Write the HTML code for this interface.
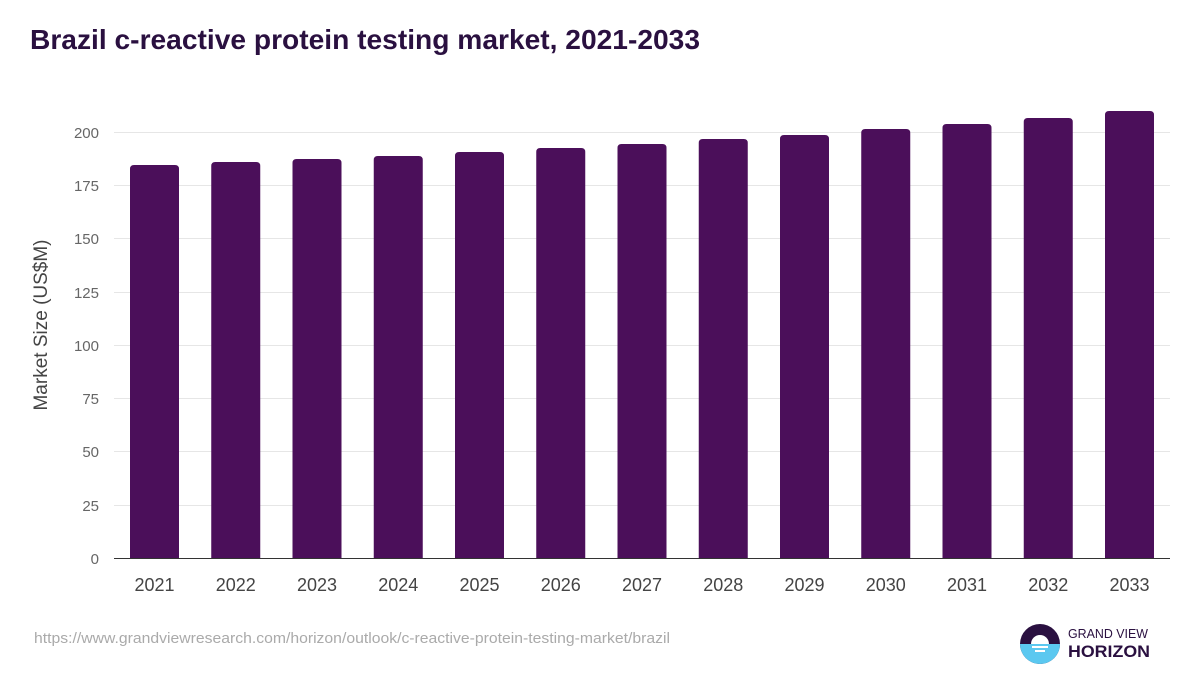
<!DOCTYPE html>
<html><head><meta charset="utf-8"><style>
body{margin:0;background:#fff;}
svg{display:block;font-family:"Liberation Sans",sans-serif;}
</style></head><body>
<svg width="1200" height="675" viewBox="0 0 1200 675">
<rect width="1200" height="675" fill="#fff"/>
<text x="30" y="49" font-size="28" font-weight="bold" fill="#2a1040" textLength="670" lengthAdjust="spacingAndGlyphs">Brazil c-reactive protein testing market, 2021-2033</text>
<g stroke="#e6e6e6" stroke-width="1">
<line x1="114" x2="1170" y1="132.5" y2="132.5"/>
<line x1="114" x2="1170" y1="185.5" y2="185.5"/>
<line x1="114" x2="1170" y1="238.5" y2="238.5"/>
<line x1="114" x2="1170" y1="292.5" y2="292.5"/>
<line x1="114" x2="1170" y1="345.5" y2="345.5"/>
<line x1="114" x2="1170" y1="398.5" y2="398.5"/>
<line x1="114" x2="1170" y1="451.5" y2="451.5"/>
<line x1="114" x2="1170" y1="505.5" y2="505.5"/>
</g>
<g font-size="15" fill="#666" text-anchor="end">
<text x="99" y="138">200</text><text x="99" y="191">175</text><text x="99" y="244">150</text><text x="99" y="298">125</text><text x="99" y="351">100</text><text x="99" y="404">75</text><text x="99" y="457">50</text><text x="99" y="511">25</text><text x="99" y="564">0</text>
</g>
<text transform="translate(47,325) rotate(-90)" font-size="19" fill="#444" text-anchor="middle">Market Size (US$M)</text>
<g fill="#4b0f5a" id="bars"></g>
<line x1="114" x2="1170" y1="558.5" y2="558.5" stroke="#333" stroke-width="1"/>
<g font-size="18" fill="#444" text-anchor="middle" id="labels"></g>
<text x="34" y="643" font-size="15" fill="#aaa" textLength="636" lengthAdjust="spacingAndGlyphs">https://www.grandviewresearch.com/horizon/outlook/c-reactive-protein-testing-market/brazil</text>
<g>
<circle cx="1040" cy="644" r="20" fill="#2a1040"/>
<path d="M1020,644 A20,20 0 0 0 1060,644 Z" fill="#5bc8f0"/>
<circle cx="1040" cy="644" r="9" fill="#fff"/>
<rect x="1028" y="644" width="24" height="10" fill="#5bc8f0"/>
<rect x="1032" y="646" width="16" height="2" fill="#fff"/>
<rect x="1035" y="650" width="10" height="2" fill="#fff"/>
<text x="1068" y="638" font-size="13" fill="#2a1040" textLength="80" lengthAdjust="spacingAndGlyphs">GRAND VIEW</text>
<text x="1068" y="657" font-size="17" font-weight="bold" fill="#2a1040" textLength="82" lengthAdjust="spacingAndGlyphs">HORIZON</text>
</g>
</svg>
<script>
var tops=[165,162,159,156,152,148,144,139,135,129,124,118,111];
var b=document.getElementById('bars'),l=document.getElementById('labels'),ns='http://www.w3.org/2000/svg';
tops.forEach(function(t,i){
var x=130+i*81.25,w=49,r=4;
var p=document.createElementNS(ns,'path');
p.setAttribute('d','M'+x+',558 V'+(t+r)+' Q'+x+','+t+' '+(x+r)+','+t+' H'+(x+w-r)+' Q'+(x+w)+','+t+' '+(x+w)+','+(t+r)+' V558 Z');
b.appendChild(p);
var tx=document.createElementNS(ns,'text');
tx.setAttribute('x',x+w/2);tx.setAttribute('y',591);tx.textContent=2021+i;
l.appendChild(tx);
});
</script>
</body></html>
